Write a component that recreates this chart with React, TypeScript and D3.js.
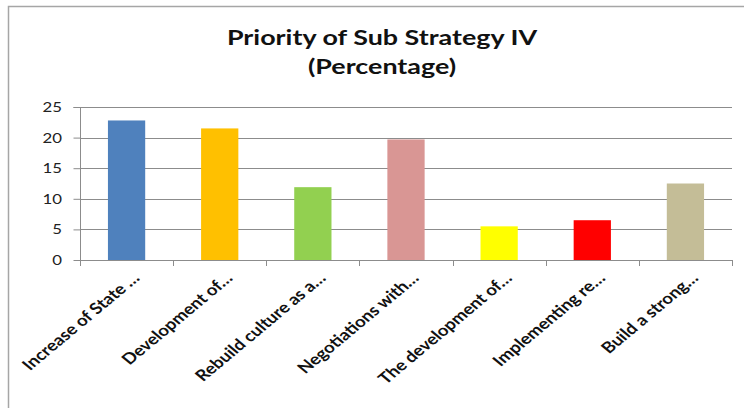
import { useEffect, useRef } from "react"
import * as d3 from "d3"

const categories = [
  "Increase of State …",
  "Development of…",
  "Rebuild culture as a…",
  "Negotiations with…",
  "The development of…",
  "Implementing re…",
  "Build a strong…",
]
const values = [22.8, 21.5, 11.9, 19.7, 5.5, 6.5, 12.5]
const barColors = ["#4F81BD", "#FFC000", "#92D050", "#D99694", "#FFFF00", "#FF0000", "#C4BD97"]
const yTicks = [0, 5, 10, 15, 20, 25]
const titleLines = ["Priority of Sub Strategy IV", "(Percentage)"]

export default function App() {
  const svgRef = useRef<SVGSVGElement | null>(null)

  useEffect(() => {
    if (!svgRef.current) return
    const svg = d3.select(svgRef.current)
    svg.selectAll("*").remove()

    const width = 744
    const height = 408
    const left = 80
    const right = 732
    const top = 107
    const bottom = 260
    const gridColor = "#8c8c8c"
    const font = "Lato, 'Open Sans', sans-serif"
    // the source picture is stretched sideways, so text gets the same stretch
    const stretch = 1.2

    svg.append("rect").attr("width", width).attr("height", height).attr("fill", "#fff")

    // chart frame (runs off the right/bottom edge)
    svg.append("rect")
      .attr("x", 8.5).attr("y", 6.5)
      .attr("width", 760).attr("height", 420)
      .attr("fill", "none").attr("stroke", "#a6a6a6").attr("stroke-width", 1.5)

    const x = d3.scaleBand().domain(categories).range([left, right]).paddingInner(0.6).paddingOuter(0.3)
    const y = d3.scaleLinear().domain([0, 25]).range([bottom, top])

    // title
    titleLines.forEach((t, i) => {
      svg.append("text")
        .attr("transform", `translate(382,${i === 0 ? 45 : 74}) scale(1.25,1)`)
        .attr("text-anchor", "middle")
        .attr("font-family", font)
        .attr("font-weight", "bold").attr("font-size", 21.5).attr("fill", "#111")
        .text(t)
    })

    // gridlines
    svg.append("g")
      .selectAll("line")
      .data(yTicks.filter((d) => d > 0))
      .enter()
      .append("line")
      .attr("x1", left).attr("x2", right)
      .attr("y1", (d) => Math.round(y(d)) + 0.5).attr("y2", (d) => Math.round(y(d)) + 0.5)
      .attr("stroke", gridColor).attr("stroke-width", 1)

    // bars
    svg.append("g")
      .selectAll("rect")
      .data(values)
      .enter()
      .append("rect")
      .attr("x", (_, i) => x(categories[i])!)
      .attr("width", x.bandwidth())
      .attr("y", (d) => y(d))
      .attr("height", (d) => y(0) - y(d))
      .attr("fill", (_, i) => barColors[i])

    // y axis
    const yAxis = svg.append("g")
      .attr("transform", `translate(${left + 0.5},0)`)
      .call(d3.axisLeft(y).tickValues(yTicks).tickSize(7).tickFormat(() => ""))
    yAxis.select(".domain").attr("stroke", gridColor).attr("d", `M-7,${y(25) + 0.5}H0V${y(0) + 0.5}`)
    yAxis.selectAll(".tick line").attr("stroke", gridColor)
    yAxis.selectAll(".tick text").remove()

    svg.append("g")
      .selectAll("text")
      .data(yTicks)
      .enter()
      .append("text")
      .attr("transform", (d) => `translate(62,${y(d)}) scale(${stretch},1)`)
      .attr("dy", "0.36em")
      .attr("text-anchor", "end")
      .attr("font-family", font)
      .attr("font-size", 14).attr("fill", "#222")
      .text((d) => d)

    // x axis with ticks at category boundaries
    const step = x.step()
    const boundaries = d3.range(categories.length + 1).map((i) => left + i * step)
    const xAxis = svg.append("g")
    xAxis.append("line")
      .attr("x1", left).attr("x2", right)
      .attr("y1", bottom + 0.5).attr("y2", bottom + 0.5)
      .attr("stroke", gridColor)
    xAxis.selectAll(".xt")
      .data(boundaries)
      .enter()
      .append("line")
      .attr("class", "xt")
      .attr("x1", (d) => Math.round(d) + 0.5).attr("x2", (d) => Math.round(d) + 0.5)
      .attr("y1", bottom).attr("y2", bottom + 6)
      .attr("stroke", gridColor)

    xAxis.selectAll(".xl")
      .data(categories)
      .enter()
      .append("text")
      .attr("class", "xl")
      .attr("transform", (d) => `translate(${x(d)! + x.bandwidth() / 2 + 14},${bottom + 19}) scale(${stretch},1) rotate(-45)`)
      .attr("text-anchor", "end")
      .attr("font-family", font)
      .attr("font-weight", "bold")
      .attr("font-size", 15.5)
      .attr("fill", "#111")
      .text((d) => d)

    svg.attr("width", width).attr("height", height).attr("viewBox", [0, 0, width, height])
  }, [])

  return <svg ref={svgRef} style={{ position: "absolute", left: 0, top: 0, display: "block" }}></svg>
}
